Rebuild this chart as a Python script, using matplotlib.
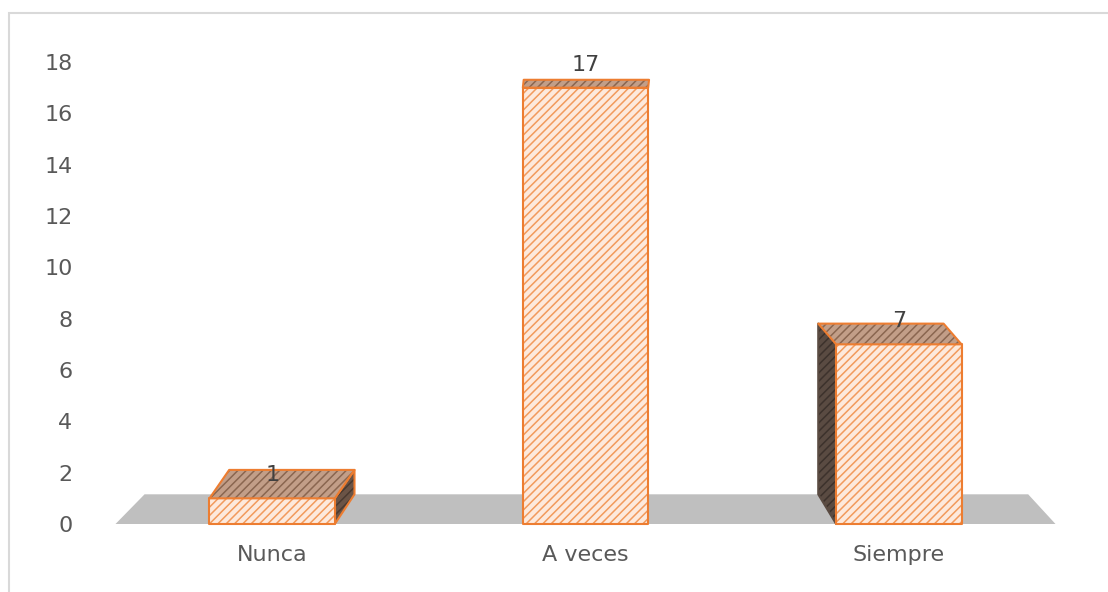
import numpy as np
import matplotlib.pyplot as plt
from matplotlib.patches import Polygon, Rectangle

# data
categories = ["Nunca", "A veces", "Siempre"]
values = [1, 17, 7]
y_ticks = list(range(0, 19, 2))

# pseudo-3d look (pixels of the 1108x592 image)
W, H = 1108, 592
VP_X, VP_Y = 600, -70
KX, KY = 0.06, 0.05
BAR_W = 0.4
EDGE = "#ed7d31"
TXT = "#595959"

plt.rcParams["hatch.linewidth"] = 1.1

fig = plt.figure(figsize=(W / 100, H / 100), dpi=100)
ax = fig.add_axes([115.5 / W, (H - 524) / H, 940 / W, 462 / H])
ax.set_xlim(-0.5, 2.5)
ax.set_ylim(0, 18)


def depth(pts, ref_x=None):
    # push points "back" toward a vanishing point, in display space
    disp = ax.transData.transform(pts)
    img_y = H - disp[:, 1]
    rx = disp[:, 0] if ref_x is None else ref_x
    back = np.column_stack([disp[:, 0] + KX * (VP_X - rx),
                            disp[:, 1] + KY * (img_y - VP_Y)])
    return ax.transData.inverted().transform(back)


def face(pts, fc, hc, z, edge=EDGE):
    ax.add_patch(Polygon(pts, closed=True, facecolor=fc, edgecolor=hc,
                         hatch="////", lw=0, zorder=z, clip_on=False))
    ax.add_patch(Polygon(pts, closed=True, fill=False, edgecolor=edge,
                         lw=1.5, zorder=z + 0.1, clip_on=False,
                         joinstyle="round"))


# floor
front = np.array([[-0.5, 0], [2.5, 0]])
back = depth(front)
ax.add_patch(Polygon([front[0], front[1], back[1], back[0]], closed=True,
                     facecolor="#bfbfbf", edgecolor="none", zorder=1,
                     clip_on=False))

for i, v in enumerate(values):
    x0, x1 = i - BAR_W / 2, i + BAR_W / 2
    fr = np.array([[x0, 0], [x1, 0], [x1, v], [x0, v]])
    cx = ax.transData.transform([[i, 0]])[0, 0]
    bk = depth(fr, ref_x=cx)
    z = 2 + i
    # side face
    if bk[0, 0] > x0 + 0.005:
        side = [fr[1], bk[1], bk[2], fr[2]]
        face(side, "#6b5446", "#4a3a30", z)
    elif bk[0, 0] < x0 - 0.005:
        side = [fr[0], bk[0], bk[3], fr[3]]
        face(side, "#5a4b42", "#3d322c", z, edge="#5a4b42")
    face(fr, "#fde9dc", "#f29a5c", z + 0.2)
    face([fr[3], fr[2], bk[2], bk[3]], "#c29e88", "#8a6650", z + 0.4)
    ax.annotate(str(v), (i, v), xytext=(0, 16.5), textcoords="offset points",
                ha="center", va="center", fontsize=16, color="#404040",
                zorder=20, annotation_clip=False)

ax.set_yticks(y_ticks)
ax.set_xticks(range(len(categories)), categories)
ax.tick_params(axis="y", length=0, pad=31, labelsize=16, labelcolor=TXT)
ax.tick_params(axis="x", length=0, pad=15, labelsize=16, labelcolor=TXT)
for s in ax.spines.values():
    s.set_visible(False)
ax.patch.set_visible(False)

# chart-area border
fig.add_artist(Rectangle((8.5 / W, -0.1), 1.2, (H - 13) / H + 0.1,
                         transform=fig.transFigure, fill=False,
                         edgecolor="#d9d9d9", lw=1.5))

fig.savefig("out.png", dpi=100)
